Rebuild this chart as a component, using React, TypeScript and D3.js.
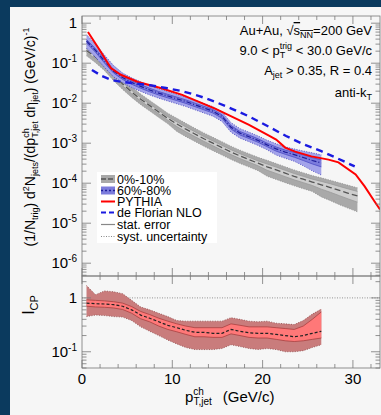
import React from 'react';
import * as d3 from 'd3';

// 0%-10% central spectrum, 1 GeV/c bins
const ptBins0010 = [0.5, 1.5, 2.5, 3.5, 4.5, 5.5, 6.5, 7.5, 8.5, 9.5, 10.5, 11.5, 12.5, 13.5, 14.5, 15.5, 16.5, 17.5, 18.5, 19.5, 20.5, 21.5, 22.5, 23.5, 24.5, 25.5, 26.5, 27.5, 28.5, 29.5, 30.5];
const yield0010 = [0.209, 0.141, 0.0891, 0.0501, 0.0302, 0.0191, 0.0126, 0.00871, 0.00603, 0.00417, 0.00302, 0.00224, 0.0017, 0.00129, 0.001, 7.76e-4, 6.03e-4, 4.79e-4, 3.89e-4, 3.16e-4, 2.57e-4, 2.14e-4, 1.78e-4, 1.48e-4, 1.26e-4, 1.07e-4, 9.1e-5, 7.8e-5, 6.6e-5, 5.6e-5, 4.8e-5];
const sysUp0010 = [0.35, 0.35, 0.35, 0.35, 0.35, 0.35, 0.35, 0.35, 0.35, 0.35, 0.4, 0.4, 0.4, 0.4, 0.4, 0.4, 0.4, 0.4, 0.4, 0.4, 0.45, 0.45, 0.45, 0.45, 0.45, 0.45, 0.5, 0.52, 0.55, 0.58, 0.6];
const sysDn0010 = [0.27, 0.27, 0.27, 0.27, 0.27, 0.27, 0.27, 0.27, 0.27, 0.27, 0.35, 0.35, 0.35, 0.35, 0.35, 0.35, 0.35, 0.35, 0.35, 0.35, 0.42, 0.42, 0.42, 0.42, 0.42, 0.42, 0.5, 0.53, 0.56, 0.58, 0.6];
const stat0010 = [0.1, 0.1, 0.1, 0.1, 0.1, 0.1, 0.1, 0.1, 0.1, 0.1, 0.14, 0.14, 0.14, 0.14, 0.14, 0.14, 0.14, 0.14, 0.14, 0.14, 0.18, 0.18, 0.18, 0.18, 0.18, 0.18, 0.22, 0.24, 0.26, 0.28, 0.3];

// 60%-80% peripheral spectrum
const ptBins6080 = [0.5, 1.5, 2.5, 3.5, 4.5, 5.5, 6.5, 7.5, 8.5, 9.5, 10.5, 11.5, 12.5, 13.5, 14.5, 15.5, 16.5, 17.5, 18.5, 19.5, 20.5, 21.5, 22.5, 23.5, 24.5, 25.5, 26.5];
const yield6080 = [0.355, 0.209, 0.112, 0.0631, 0.0437, 0.0331, 0.0263, 0.0214, 0.0178, 0.0151, 0.0129, 0.011, 0.00912, 0.00759, 0.00631, 0.00468, 0.00251, 0.00178, 0.00145, 0.00117, 9.1e-4, 7.2e-4, 6.0e-4, 5.2e-4, 4.4e-4, 3.7e-4, 3.2e-4];
const sysUp6080 = [0.45, 0.45, 0.42, 0.38, 0.3, 0.3, 0.3, 0.3, 0.3, 0.3, 0.3, 0.3, 0.3, 0.3, 0.3, 0.3, 0.3, 0.3, 0.3, 0.3, 0.3, 0.35, 0.35, 0.38, 0.45, 0.55, 0.6];
const sysDn6080 = [0.33, 0.33, 0.3, 0.28, 0.25, 0.25, 0.25, 0.25, 0.25, 0.25, 0.25, 0.25, 0.25, 0.25, 0.25, 0.25, 0.25, 0.25, 0.25, 0.25, 0.25, 0.3, 0.3, 0.32, 0.38, 0.45, 0.5];
const stat6080 = [0.1, 0.1, 0.1, 0.1, 0.1, 0.1, 0.1, 0.1, 0.1, 0.1, 0.1, 0.1, 0.1, 0.1, 0.1, 0.1, 0.1, 0.1, 0.1, 0.1, 0.1, 0.12, 0.12, 0.14, 0.16, 0.18, 0.2];

// PYTHIA reference
const pythiaPt = [0.66, 1.76, 3.2, 4.3, 6.2, 8.7, 11.1, 14.8, 18.5, 20.7, 21.5, 22.5, 23.6, 25.4, 27.3, 28.4, 30.3, 31.3, 32.4, 33.0];
const pythiaYield = [0.603, 0.251, 0.0759, 0.0513, 0.0339, 0.024, 0.0162, 0.00724, 0.00288, 0.00155, 0.00123, 7.76e-4, 6.17e-4, 4.68e-4, 3.89e-4, 3.31e-4, 1.66e-4, 8.3e-5, 3.5e-5, 2.2e-5];

// de Florian NLO
const nloPt = [1.1, 2.2, 3.3, 4.5, 6.0, 7.5, 9.3, 11.1, 13.0, 14.8, 16.6, 18.5, 20.7, 22.6, 24.5, 26.5, 28.3, 30.2];
const nloYield = [0.0676, 0.0479, 0.038, 0.0339, 0.0309, 0.0282, 0.024, 0.02, 0.0151, 0.0107, 0.00724, 0.00468, 0.00257, 0.00151, 9.5e-4, 6.3e-4, 4.17e-4, 2.63e-4];

// I_CP
const icp = [0.8, 0.78, 0.77, 0.75, 0.7, 0.6, 0.48, 0.42, 0.36, 0.31, 0.28, 0.25, 0.23, 0.23, 0.22, 0.22, 0.26, 0.24, 0.225, 0.22, 0.22, 0.21, 0.2, 0.19, 0.2, 0.22, 0.24];
const icpSysHi = [1.7, 1.15, 1.35, 1.3, 1.2, 0.9, 0.68, 0.6, 0.52, 0.45, 0.38, 0.37, 0.37, 0.37, 0.37, 0.37, 0.43, 0.4, 0.37, 0.36, 0.37, 0.34, 0.33, 0.32, 0.38, 0.5, 0.62];
const icpSysLo = [0.45, 0.48, 0.47, 0.45, 0.44, 0.38, 0.29, 0.24, 0.2, 0.165, 0.14, 0.12, 0.11, 0.11, 0.11, 0.115, 0.135, 0.125, 0.115, 0.11, 0.115, 0.11, 0.1, 0.1, 0.105, 0.12, 0.135];
const icpStatHi = [0.92, 0.9, 0.88, 0.85, 0.8, 0.69, 0.56, 0.49, 0.42, 0.37, 0.33, 0.3, 0.28, 0.28, 0.28, 0.28, 0.33, 0.31, 0.29, 0.29, 0.29, 0.28, 0.27, 0.26, 0.3, 0.4, 0.55];
const icpStatLo = [0.7, 0.68, 0.67, 0.65, 0.61, 0.52, 0.41, 0.36, 0.3, 0.26, 0.235, 0.21, 0.19, 0.19, 0.185, 0.185, 0.215, 0.2, 0.185, 0.18, 0.18, 0.17, 0.16, 0.155, 0.16, 0.17, 0.18];

const xTicks = [0, 10, 20, 30];
const yTopTickExp = [0, -1, -2, -3, -4, -5, -6];
const yBotTickExp = [0, -1];
const legendLabels = ['0%-10%', '60%-80%', 'PYTHIA', 'de Florian NLO', 'stat. error', 'syst. uncertainty'];

const FONT = '"Liberation Sans", Arial, Helvetica, sans-serif';
const L = 82, R = 380, T1 = 16, B1 = 276, T2 = 276, B2 = 368;

const x = d3.scaleLinear().domain([0, 33]).range([L, R]);
const yTop = d3.scaleLog().domain([Math.pow(10, -6.32), Math.pow(10, 0.18)]).range([B1, T1]);
const yBot = d3.scaleLog().domain([0.05, 2.55]).range([B2, T2]);

type Row = { p: number; c: number; lo: number; hi: number };

function logTicks(scale: d3.ScaleLogarithmic<number, number>) {
  const [a, b] = scale.domain();
  const out: { v: number; major: boolean }[] = [];
  for (let e = Math.floor(Math.log10(a)); e <= Math.ceil(Math.log10(b)); e++) {
    for (let m = 1; m < 10; m++) {
      const v = m * Math.pow(10, e);
      if (v >= a && v <= b) out.push({ v, major: m === 1 });
    }
  }
  return out;
}

const Frame = ({ y, top, bottom }: { y: d3.ScaleLogarithmic<number, number>; top: number; bottom: number }) => {
  const xt = d3.range(0, 33, 2);
  return (
    <g stroke="#777" strokeWidth={0.8} fill="none">
      <rect x={L} y={top} width={R - L} height={bottom - top} />
      {xt.map((v) => {
        const len = v % 10 === 0 ? 8 : 4;
        return (
          <g key={v}>
            <line x1={x(v)} x2={x(v)} y1={bottom} y2={bottom - len} />
            <line x1={x(v)} x2={x(v)} y1={top} y2={top + len} />
          </g>
        );
      })}
      {logTicks(y).map((t, i) => {
        const len = t.major ? 9 : 4.5;
        return (
          <g key={i}>
            <line x1={L} x2={L + len} y1={y(t.v)} y2={y(t.v)} />
            <line x1={R} x2={R - len} y1={y(t.v)} y2={y(t.v)} />
          </g>
        );
      })}
    </g>
  );
};

const Band = ({ rows, y, fill, edge, dash }: { rows: Row[]; y: d3.ScaleLogarithmic<number, number>; fill: string; edge: string; dash?: string }) => {
  const area = d3.area<Row>().x((d) => x(d.p)).y0((d) => y(d.lo)).y1((d) => y(d.hi));
  const hiLine = d3.line<Row>().x((d) => x(d.p)).y((d) => y(d.hi));
  const loLine = d3.line<Row>().x((d) => x(d.p)).y((d) => y(d.lo));
  return (
    <g>
      <path d={area(rows) || ''} fill={fill} stroke="none" />
      <path d={hiLine(rows) || ''} fill="none" stroke={edge} strokeWidth={0.8} strokeDasharray={dash} />
      <path d={loLine(rows) || ''} fill="none" stroke={edge} strokeWidth={0.8} strokeDasharray={dash} />
    </g>
  );
};

const Exp10 = ({ e, xPos, yPos }: { e: number; xPos: number; yPos: number }) =>
  e === 0 ? (
    <text x={xPos} y={yPos + 5} textAnchor="end" fontSize={15}>1</text>
  ) : (
    <text x={xPos} y={yPos + 5} textAnchor="end" fontSize={15}>
      10<tspan dy={-6} fontSize={10}>{e}</tspan>
    </text>
  );

export default function App() {
  const rows0010 = ptBins0010.map((p, i) => ({ p, c: yield0010[i], lo: yield0010[i] * (1 - sysDn0010[i]), hi: yield0010[i] * (1 + sysUp0010[i]) }));
  const stat0010Rows = ptBins0010.map((p, i) => ({ p, c: yield0010[i], lo: yield0010[i] * (1 - stat0010[i]), hi: yield0010[i] * (1 + stat0010[i]) }));
  const rows6080 = ptBins6080.map((p, i) => ({ p, c: yield6080[i], lo: yield6080[i] * (1 - sysDn6080[i]), hi: yield6080[i] * (1 + sysUp6080[i]) }));
  const stat6080Rows = ptBins6080.map((p, i) => ({ p, c: yield6080[i], lo: yield6080[i] * (1 - stat6080[i]), hi: yield6080[i] * (1 + stat6080[i]) }));
  const icpSysRows = ptBins6080.map((p, i) => ({ p, c: icp[i], lo: icpSysLo[i], hi: icpSysHi[i] }));
  const icpStatRows = ptBins6080.map((p, i) => ({ p, c: icp[i], lo: icpStatLo[i], hi: icpStatHi[i] }));

  const topLine = d3.line<[number, number]>().x((d) => x(d[0])).y((d) => yTop(d[1]));
  const botLine = d3.line<[number, number]>().x((d) => x(d[0])).y((d) => yBot(d[1]));
  const zip = (a: number[], b: number[]) => a.map((v, i) => [v, b[i]] as [number, number]);

  const legY = [179, 190.5, 201.5, 212.5, 224.5, 236.5];

  return (
    <div style={{ position: 'absolute', left: 0, top: 0 }}>
      <svg width={381} height={415} fontFamily={FONT} style={{ display: 'block' }}>
        <defs>
          <clipPath id="clipTop"><rect x={L} y={T1} width={R - L} height={B1 - T1} /></clipPath>
          <clipPath id="clipBot"><rect x={L} y={T2} width={R - L} height={B2 - T2} /></clipPath>
        </defs>
        <rect width={381} height={415} fill="#0b3a5e" />
        <rect x={10} y={7} width={371} height={408} fill="#f6f6f6" />

        {/* top panel */}
        <g clipPath="url(#clipTop)">
          <Band rows={rows0010} y={yTop} fill="#a9a9a9" edge="#8a8a8a" dash="1,1.5" />
          <Band rows={stat0010Rows} y={yTop} fill="#cdcdcd" edge="#999" />
          <path d={topLine(zip(ptBins0010, yield0010)) || ''} fill="none" stroke="#555" strokeWidth={1.3} strokeDasharray="6,3" />
          <Band rows={rows6080} y={yTop} fill="#a3a3ea" edge="#3a3ab8" dash="1,1.5" />
          <Band rows={stat6080Rows} y={yTop} fill="#7c7cdc" edge="#4a4ac4" />
          <path d={topLine(zip(ptBins6080, yield6080)) || ''} fill="none" stroke="#1e1e9a" strokeWidth={1.2} strokeDasharray="5,2,1,2" />
          <path d={topLine(zip(pythiaPt, pythiaYield)) || ''} fill="none" stroke="#ff0000" strokeWidth={2} />
          <path d={topLine(zip(nloPt, nloYield)) || ''} fill="none" stroke="#1a1ae0" strokeWidth={2.4} strokeDasharray="7,5" />
        </g>
        <Frame y={yTop} top={T1} bottom={B1} />

        {/* bottom panel */}
        <g clipPath="url(#clipBot)">
          <line x1={L} x2={R} y1={yBot(1)} y2={yBot(1)} stroke="#888" strokeWidth={0.9} strokeDasharray="1,1.5" />
          <Band rows={icpSysRows} y={yBot} fill="#c97c7c" edge="#8c4848" dash="1,1.5" />
          <Band rows={icpStatRows} y={yBot} fill="#ff7878" edge="#a84040" />
          <path d={botLine(zip(ptBins6080, icp)) || ''} fill="none" stroke="#222" strokeWidth={1.2} strokeDasharray="3,2" />
        </g>
        <Frame y={yBot} top={T2} bottom={B2} />

        {/* tick labels */}
        {yTopTickExp.map((e) => <Exp10 key={e} e={e} xPos={77} yPos={yTop(Math.pow(10, e))} />)}
        {yBotTickExp.map((e) => <Exp10 key={e} e={e} xPos={77} yPos={yBot(Math.pow(10, e))} />)}
        {xTicks.map((v) => (
          <text key={v} x={x(v)} y={384} textAnchor="middle" fontSize={15}>{v}</text>
        ))}

        {/* axis titles */}
        <text x={185} y={402} fontSize={15}>
          p<tspan dy={-7} fontSize={10}>ch</tspan>
          <tspan dx={-10.5} dy={10} fontSize={10}>T,jet</tspan>
          <tspan dx={11} dy={-3}>(GeV/c)</tspan>
        </text>
        <text transform="translate(35,137) rotate(-90)" textAnchor="middle" fontSize={14}>
          (1/N<tspan dy={3} fontSize={9}>trig</tspan>
          <tspan dy={-3}>) d</tspan>
          <tspan dy={-6} fontSize={9}>2</tspan>
          <tspan dy={6}>N</tspan>
          <tspan dy={3} fontSize={9}>jets</tspan>
          <tspan dy={-3}>/(dp</tspan>
          <tspan dy={-6} fontSize={9}>ch</tspan>
          <tspan dx={-9.5} dy={9} fontSize={9}>T,jet</tspan>
          <tspan dy={-3}> dη</tspan>
          <tspan dy={3} fontSize={9}>jet</tspan>
          <tspan dy={-3}>)  (GeV/c)</tspan>
          <tspan dy={-6} fontSize={9}>-1</tspan>
        </text>
        <text transform="translate(34,305) rotate(-90)" textAnchor="middle" fontSize={16}>
          I<tspan dy={4} fontSize={11}>CP</tspan>
        </text>

        {/* annotations */}
        <g fontSize={13} textAnchor="end">
          <text x={372} y={35}>
            Au+Au, √<tspan style={{ textDecoration: 'overline' }}>s</tspan>
            <tspan dy={3} fontSize={9} style={{ textDecoration: 'overline' }}>NN</tspan>
            <tspan dy={-3}>=200 GeV</tspan>
          </text>
          <text x={372} y={55}>
            9.0 &lt; p<tspan dy={-6} fontSize={9}>trig</tspan>
            <tspan dx={-12.5} dy={9} fontSize={9}>T</tspan>
            <tspan dx={7} dy={-3}> &lt; 30.0 GeV/c</tspan>
          </text>
          <text x={372} y={75}>
            A<tspan dy={3} fontSize={9}>jet</tspan>
            <tspan dy={-3}> &gt; 0.35, R = 0.4</tspan>
          </text>
          <text x={372} y={97}>
            anti-k<tspan dy={3} fontSize={9}>T</tspan>
          </text>
        </g>

        {/* legend */}
        <rect x={97} y={172} width={120} height={71} fill="#fff" />
        <g fontSize={12.5}>
          <rect x={101} y={legY[0] - 4} width={14} height={8} fill="#a9a9a9" />
          <line x1={101} x2={115} y1={legY[0]} y2={legY[0]} stroke="#555" strokeWidth={1.3} strokeDasharray="5,2" />
          <rect x={101} y={legY[1] - 4} width={14} height={8} fill="#7c7cdc" />
          <line x1={101} x2={115} y1={legY[1]} y2={legY[1]} stroke="#1e1e9a" strokeWidth={1.5} strokeDasharray="2,2" />
          <line x1={101} x2={115} y1={legY[2]} y2={legY[2]} stroke="#ff0000" strokeWidth={2} />
          <line x1={101} x2={115} y1={legY[3]} y2={legY[3]} stroke="#1a1ae0" strokeWidth={2.2} strokeDasharray="5,3" />
          <line x1={101} x2={115} y1={legY[4]} y2={legY[4]} stroke="#888" strokeWidth={1.2} />
          <line x1={101} x2={115} y1={legY[5]} y2={legY[5]} stroke="#888" strokeWidth={1} strokeDasharray="1,1.5" />
          {legendLabels.map((t, i) => (
            <text key={t} x={117} y={legY[i] + 4.5}>{t}</text>
          ))}
        </g>
      </svg>
    </div>
  );
}
